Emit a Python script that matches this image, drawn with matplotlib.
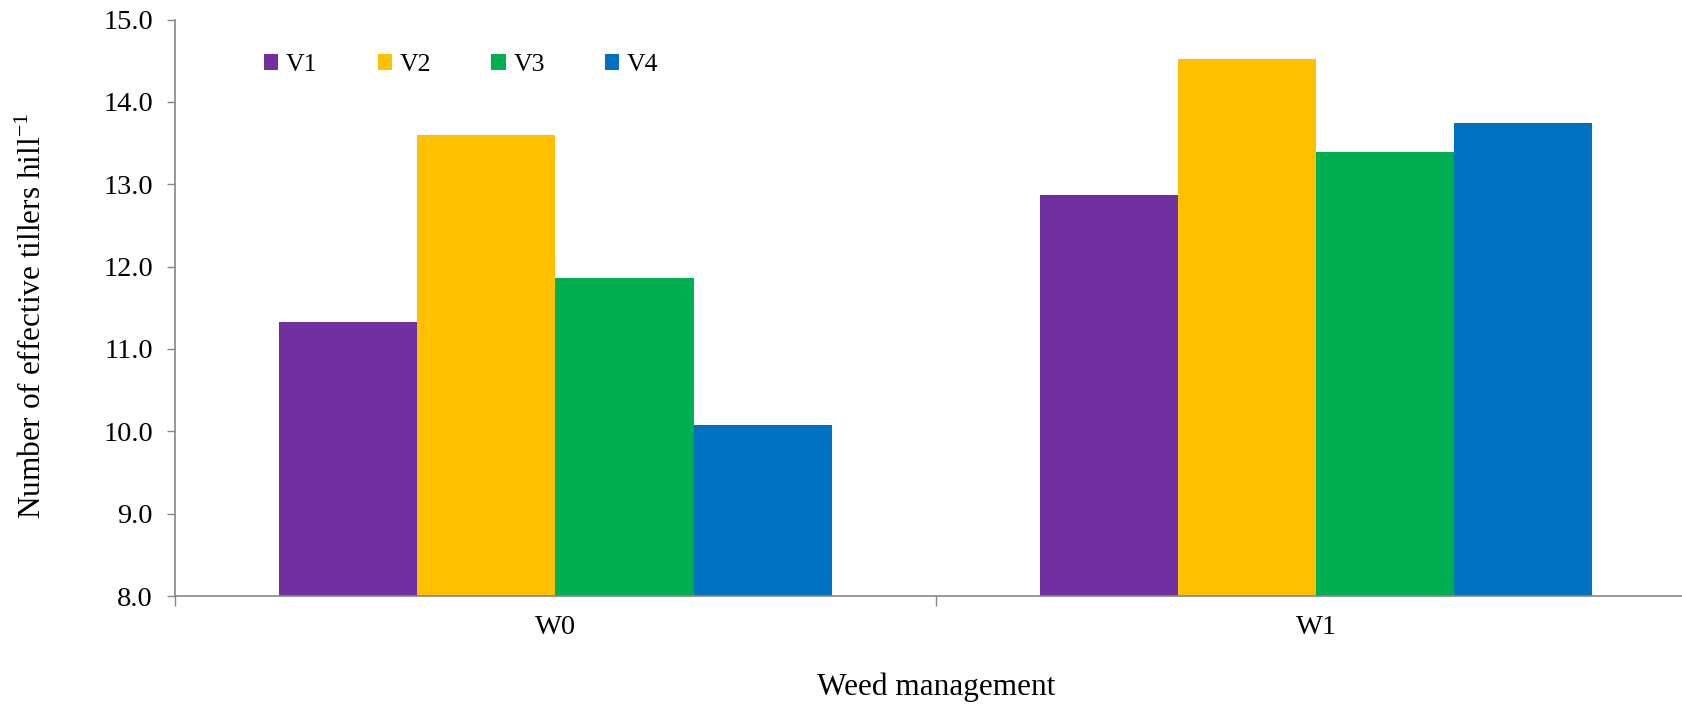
import matplotlib
matplotlib.use("Agg")
import matplotlib.pyplot as plt
import numpy as np

categories = ["W0", "W1"]
series_names = ["V1", "V2", "V3", "V4"]
V1 = [11.33, 12.87]
V2 = [13.60, 14.52]
V3 = [11.86, 13.39]
V4 = [10.08, 13.74]
series_values = [V1, V2, V3, V4]
colors = ["#7030A0", "#FFC000", "#00B050", "#0070C0"]
yticks = [8.0, 9.0, 10.0, 11.0, 12.0, 13.0, 14.0, 15.0]

plt.rcParams['font.family'] = ['Liberation Serif', 'DejaVu Serif']
plt.rcParams['mathtext.fontset'] = 'custom'
plt.rcParams['mathtext.rm'] = 'Liberation Serif'

fig = plt.figure(figsize=(16.83, 7.07), dpi=100)
ax = fig.add_axes([0.104, 0.157, 0.904, 0.8154])

x = np.arange(len(categories))
w = 0.1816
for i, (name, vals, c) in enumerate(zip(series_names, series_values, colors)):
    ax.bar(x + (i - 1.5) * w, [v - 8.0 for v in vals], width=w, bottom=8.0,
           color=c, label=name, linewidth=0)

ax.set_xlim(-0.5, 1.5)
ax.set_ylim(8.0, 15.0)
ax.set_yticks(yticks)
ax.set_yticklabels([f"{t:.1f}" for t in yticks], fontsize=20.5)
ax.set_xticks(x)
ax.set_xticklabels(categories, fontsize=20.5)
ax.set_xticks([-0.5, 0.5, 1.5], minor=True)
ax.tick_params(axis='x', which='major', length=0, pad=14)
ax.tick_params(axis='x', which='minor', length=7, color='#868686', width=1)
ax.tick_params(axis='y', which='major', length=6, color='#868686', width=1, pad=10)

for s in ['top', 'right']:
    ax.spines[s].set_visible(False)
for s in ['left', 'bottom']:
    ax.spines[s].set_color('#868686')
    ax.spines[s].set_linewidth(1.2)

fig.text(936/1683, 1 - 687/707, "Weed management", fontsize=22.5,
         ha='center', va='center')
fig.text(33/1683, 1 - 316/707, "Number of effective tillers hill$^{\\mathregular{-1}}$",
         fontsize=22.5, rotation=90, ha='center', va='center')

leg = ax.legend(loc='center left', bbox_to_anchor=(264/1683, 1 - 65/707),
                bbox_transform=fig.transFigure, ncol=4, frameon=False,
                fontsize=18.5, handlelength=0.55, handleheight=0.6,
                handletextpad=0.3, columnspacing=2.35, borderpad=0, borderaxespad=0)

fig.savefig("out.png", dpi=100)
